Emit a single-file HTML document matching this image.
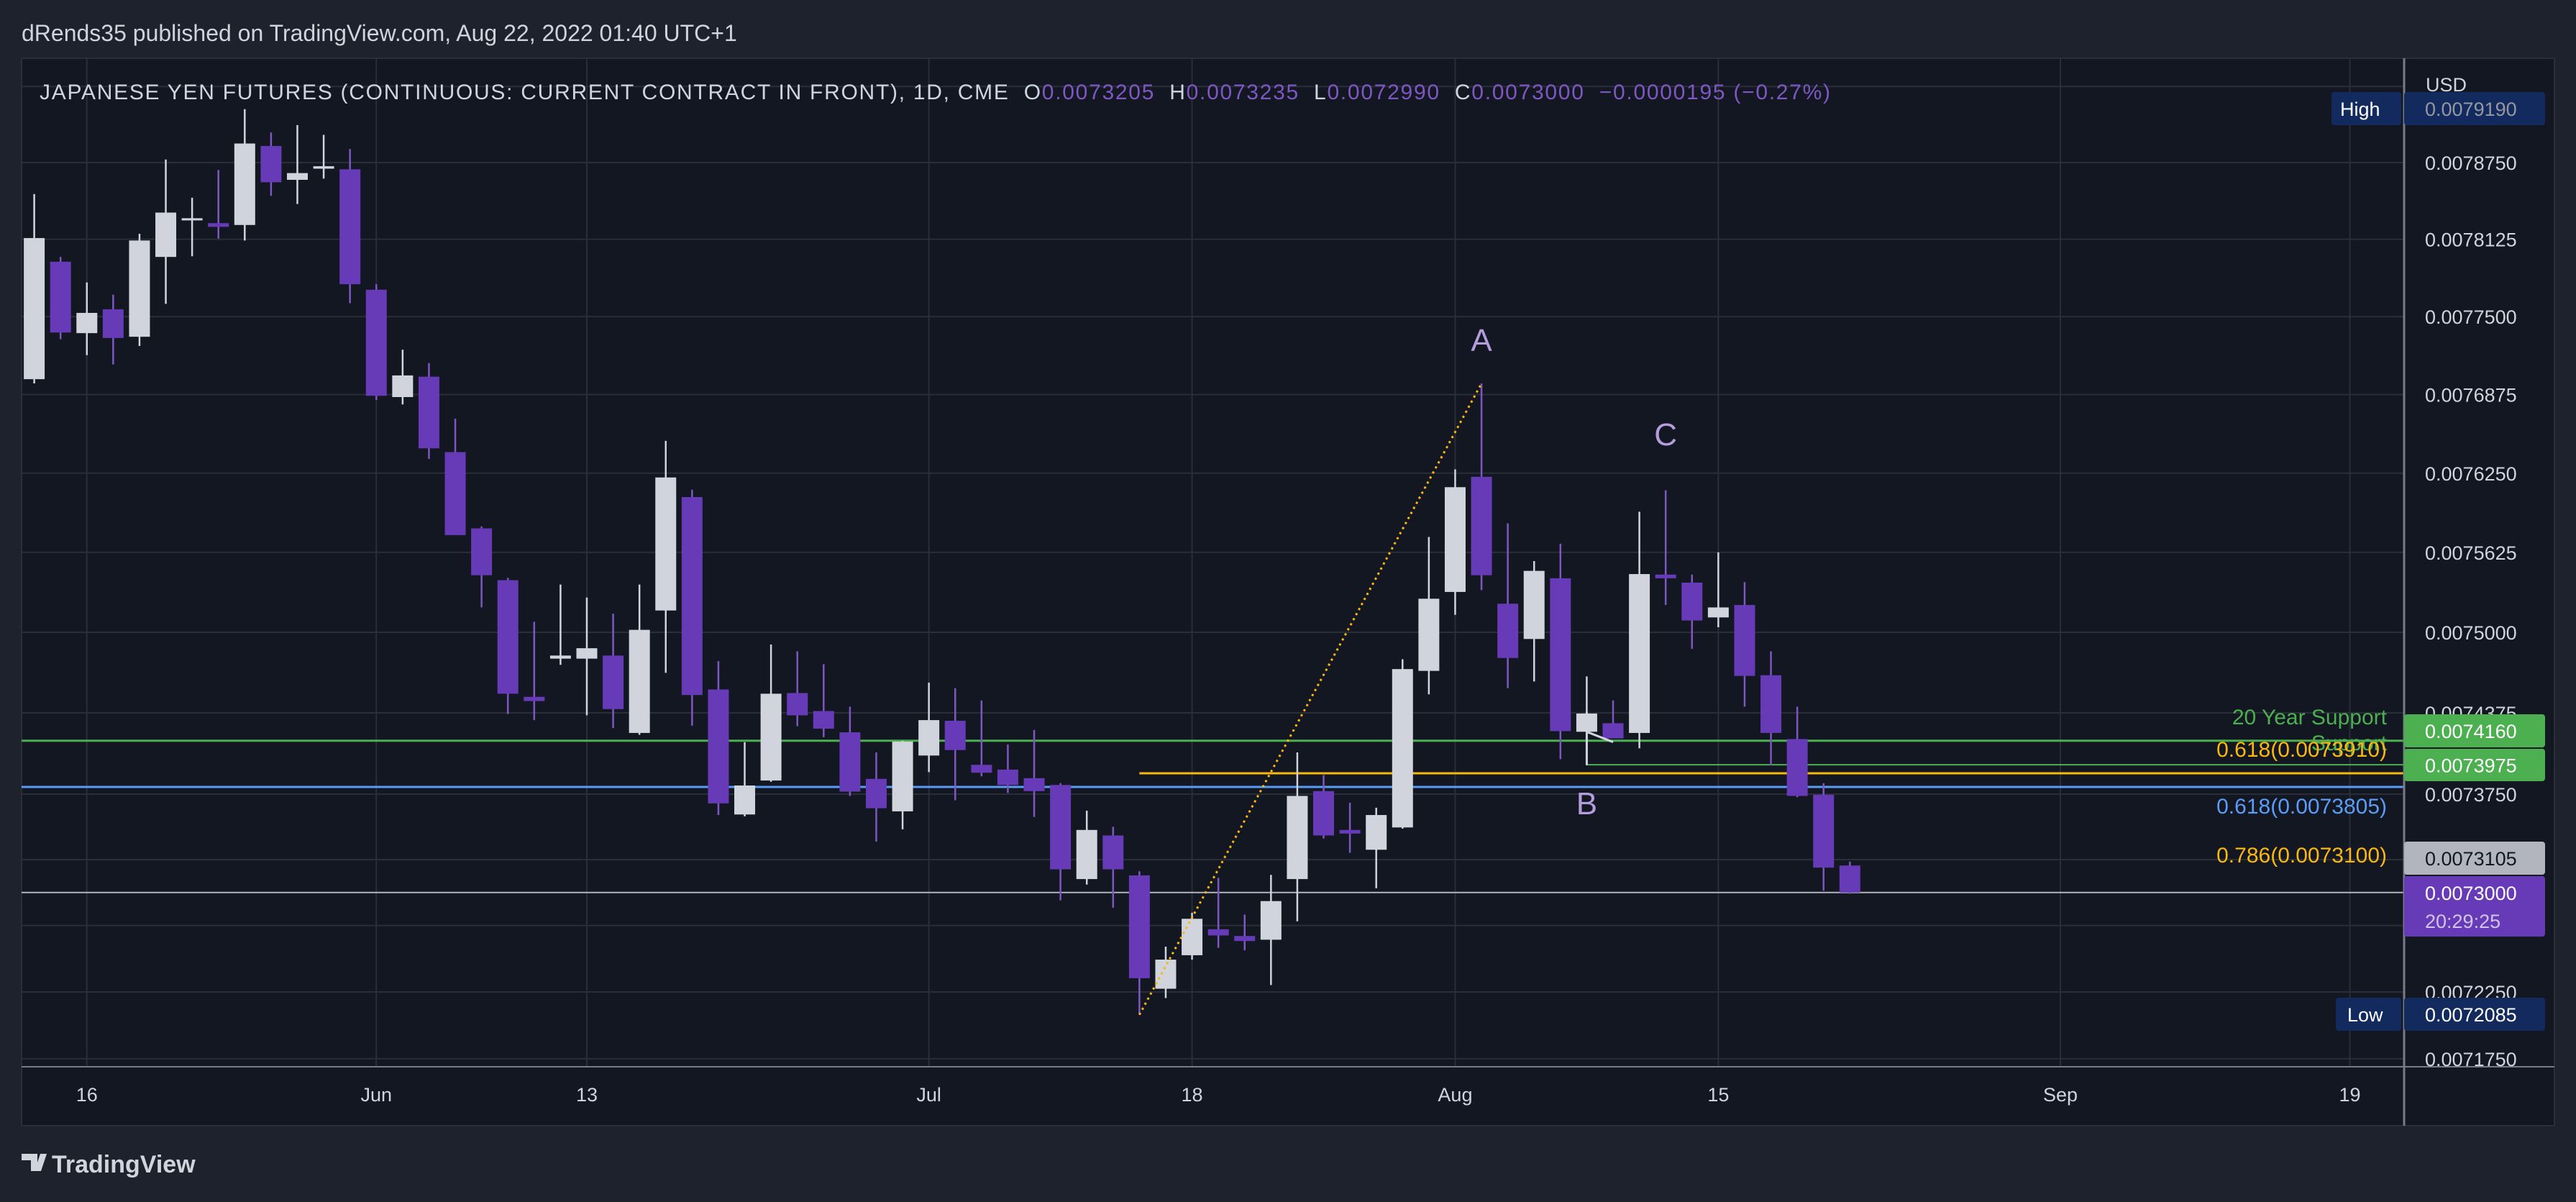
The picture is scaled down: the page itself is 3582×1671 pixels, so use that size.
<!DOCTYPE html>
<html><head><meta charset="utf-8">
<style>
html,body{margin:0;padding:0;background:#1e222d;}
svg{display:block;font-family:"Liberation Sans",sans-serif;}
</style></head>
<body>
<svg id="chart" width="3582" height="1671" viewBox="0 0 3582 1671" xmlns="http://www.w3.org/2000/svg">
<rect x="0" y="0" width="3582" height="1671" fill="#1e222d"/>
<rect x="30" y="81" width="3522" height="1484" fill="#131722" stroke="#2a2e39" stroke-width="2"/>
<text x="30" y="57" font-size="32" fill="#d1d4dc">dRends35 published on TradingView.com, Aug 22, 2022 01:40 UTC+1</text>
<g id="grid"></g>
<g id="levels"></g>
<g id="candles"></g>
<g id="overlay"></g>
<text x="55" y="138" font-size="30" fill="#d1d4dc" textLength="2490" lengthAdjust="spacing" style="white-space:pre" xml:space="preserve">JAPANESE YEN FUTURES (CONTINUOUS: CURRENT CONTRACT IN FRONT), 1D, CME  O<tspan fill="#7e57c2">0.0073205</tspan>  H<tspan fill="#7e57c2">0.0073235</tspan>  L<tspan fill="#7e57c2">0.0072990</tspan>  C<tspan fill="#7e57c2">0.0073000</tspan>  <tspan fill="#7e57c2">−0.0000195 (−0.27%)</tspan></text>
<g id="axis"></g>
<g id="taxis"></g>
<g>
<path d="M30 1604 h22 v24 h-9 v-15 h-13 z M56 1604 h9 l-8 24 h-9 z" fill="#d1d4dc"/>
<text x="72" y="1630" font-size="34" font-weight="bold" fill="#d1d4dc">TradingView</text>
</g>
</svg>
<script>
const opens=[0.0076998,0.0077943,0.0077367,0.0077559,0.0077338,0.0077982,0.0078281,0.0078256,0.0078241,0.0078886,0.0078609,0.0078700,0.0078695,0.0077717,0.0076855,0.0077018,0.0076417,0.0075814,0.0075407,0.0074499,0.0074795,0.0074795,0.0074819,0.0074220,0.0075170,0.0076061,0.0074556,0.0073594,0.0073854,0.0074528,0.0074389,0.0074225,0.0073867,0.0073618,0.0074046,0.0074314,0.0073975,0.0073938,0.0073872,0.0073820,0.0073102,0.0073434,0.0073130,0.0072274,0.0072526,0.0072722,0.0072671,0.0072643,0.0073102,0.0073773,0.0073476,0.0073325,0.0073495,0.0074700,0.0075315,0.0076221,0.0075223,0.0074948,0.0075422,0.0074229,0.0074295,0.0074220,0.0075451,0.0075388,0.0075116,0.0075213,0.0074666,0.0074173,0.0073745,0.0073205];
const highs=[0.0078493,0.0077982,0.0077776,0.0077677,0.0078170,0.0078775,0.0078463,0.0078690,0.0079188,0.0078997,0.0079057,0.0078977,0.0078861,0.0077761,0.0077234,0.0077127,0.0076683,0.0075829,0.0075426,0.0075082,0.0075373,0.0075271,0.0075145,0.0075373,0.0076506,0.0076119,0.0074776,0.0074149,0.0074905,0.0074852,0.0074752,0.0074423,0.0074070,0.0074159,0.0074609,0.0074566,0.0074471,0.0074131,0.0074244,0.0073834,0.0073623,0.0073500,0.0073162,0.0072591,0.0072847,0.0073111,0.0072833,0.0073134,0.0074070,0.0073896,0.0073684,0.0073646,0.0074790,0.0075746,0.0076280,0.0076964,0.0075853,0.0075557,0.0075693,0.0074657,0.0074471,0.0075945,0.0076114,0.0075451,0.0075625,0.0075392,0.0074852,0.0074423,0.0073834,0.0073235];
const lows=[0.0076964,0.0077318,0.0077190,0.0077116,0.0077264,0.0077603,0.0077987,0.0078130,0.0078115,0.0078478,0.0078412,0.0078619,0.0077608,0.0076831,0.0076796,0.0076363,0.0075761,0.0075194,0.0074366,0.0074319,0.0074747,0.0074356,0.0074258,0.0074206,0.0074685,0.0074276,0.0073590,0.0073580,0.0073844,0.0074272,0.0074187,0.0073736,0.0073387,0.0073481,0.0073919,0.0073703,0.0073886,0.0073759,0.0073575,0.0072940,0.0073060,0.0072884,0.0072079,0.0072204,0.0072493,0.0072582,0.0072563,0.0072302,0.0072782,0.0073410,0.0073302,0.0073032,0.0073486,0.0074518,0.0075136,0.0075329,0.0074566,0.0074618,0.0074018,0.0073971,0.0074178,0.0074102,0.0075213,0.0074871,0.0075039,0.0074423,0.0073971,0.0073726,0.0073014,0.0072990];
const closes=[0.0078135,0.0077372,0.0077530,0.0077328,0.0078115,0.0078342,0.0078296,0.0078226,0.0078906,0.0078589,0.0078664,0.0078720,0.0077761,0.0076865,0.0077028,0.0076447,0.0075761,0.0075446,0.0074523,0.0074466,0.0074819,0.0074876,0.0074404,0.0075019,0.0076216,0.0074513,0.0073679,0.0073816,0.0074523,0.0074356,0.0074253,0.0073769,0.0073642,0.0074154,0.0074319,0.0074088,0.0073914,0.0073820,0.0073773,0.0073176,0.0073476,0.0073176,0.0072353,0.0072493,0.0072801,0.0072675,0.0072633,0.0072935,0.0073736,0.0073434,0.0073448,0.0073590,0.0074714,0.0075262,0.0076139,0.0075446,0.0074800,0.0075480,0.0074234,0.0074370,0.0074178,0.0075455,0.0075422,0.0075092,0.0075194,0.0074661,0.0074220,0.0073736,0.0073189,0.0073000];
const priceTicks=[0.0079375,0.0078750,0.0078125,0.0077500,0.0076875,0.0076250,0.0075625,0.0075000,0.0074375,0.0073750,0.0073250,0.0072750,0.0072250,0.0071750];
const tickLabels=["","0.0078750","0.0078125","0.0077500","0.0076875","0.0076250","0.0075625","0.0075000","0.0074375","0.0073750","0.0073250","0.0072750","0.0072250","0.0071750"];
const timeIdx=[2,13,21,34,44,54,64,77,88];
const timeLabels=["16","Jun","13","Jul","18","Aug","15","Sep","19"];
const supportLevel=0.0074160, fibA=0.0073910, fibB=0.0073805, fibC=0.0073100, lastPrice=0.0073000, bLevel=0.0073975;

const NS="http://www.w3.org/2000/svg";
function yP(p){return 226+13384*Math.log(0.007875/p);}
function xI(i){return 47.6+i*36.59;}
function mk(tag,attrs,parent){const e=document.createElementNS(NS,tag);for(const k in attrs)e.setAttribute(k,attrs[k]);parent.appendChild(e);return e;}
const grid=document.getElementById('grid'),levels=document.getElementById('levels'),cg=document.getElementById('candles'),ov=document.getElementById('overlay'),ax=document.getElementById('axis'),tx=document.getElementById('taxis');
const L=30,R=3343,T=81,B=1483;
priceTicks.forEach((p,i)=>{const l=mk('line',{x1:L,x2:R,y1:yP(p),y2:yP(p),stroke:'#2a2e39','stroke-width':2},grid);

});
timeIdx.forEach((t,i)=>{const l=mk('line',{x1:xI(t),x2:xI(t),y1:T,y2:B,stroke:'#2a2e39','stroke-width':2},grid);


const s=mk('text',{x:xI(t),y:1531,'font-size':27,fill:'#d1d4dc','text-anchor':'middle'},tx);s.textContent=timeLabels[i];

});
function hline(p,x1,color,w,name){const l=mk('line',{x1:x1,x2:R,y1:yP(p),y2:yP(p),stroke:color,'stroke-width':w},levels);

}
hline(supportLevel,L,'#4caf50',3,'support-line');
hline(bLevel,xI(59),'#4caf50',2,'b-level-line');
hline(fibA,xI(42),'#f9b70f',3,'fib-0618-orange-line');
hline(fibB,L,'#5b9cf6',3,'fib-0618-blue-line');
hline(lastPrice,L,'#b2b5be',2,'last-price-line');
opens.forEach((o,i)=>{const c=closes[i],up=c>=o,col=up?'#d1d4dc':'#673ab7';const g=mk('g',{},cg);


mk('line',{x1:xI(i),x2:xI(i),y1:yP(highs[i]),y2:yP(lows[i]),stroke:up?'#d1d4dc':'#7e57c2','stroke-width':2.5},g);
const t=Math.min(yP(o),yP(c)),h=Math.max(3,Math.abs(yP(o)-yP(c)));
mk('rect',{x:xI(i)-14.5,y:t,width:29,height:h,fill:col},g);});
const tl=mk('line',{x1:xI(42),y1:yP(lows[42]),x2:xI(55),y2:yP(highs[55]),stroke:'#f9b70f','stroke-width':3,'stroke-dasharray':'3 5'},ov);


const bx=xI(59);
const bb=mk('path',{d:`M${bx} ${yP(0.0074380)} V${yP(bLevel)} M${bx} ${yP(0.0074229)} L${xI(60)} ${yP(0.0074150)}`,stroke:'#d1d4dc','stroke-width':3,fill:'none'},ov);


[['A',xI(55),473],['C',xI(62),604],['B',xI(59),1117]].forEach(a=>{const s=mk('text',{x:a[1],y:a[2]+15,'font-size':44,fill:'#b39ddb','text-anchor':'middle'},ov);s.textContent=a[0];

});
function ltext(t,y,col,name){const s=mk('text',{x:3319,y:y+10,'font-size':30,fill:col,'text-anchor':'end'},ov);s.textContent=t;

}
ltext('Support',1033,'#4caf50','support-label-2');
ltext('20 Year Support',997,'#4caf50','support-label');
ltext('0.618(0.0073910)',1042,'#f9b70f','fib-0618-orange-label');
ltext('0.618(0.0073805)',1121,'#5b9cf6','fib-0618-blue-label');
ltext('0.786(0.0073100)',1189,'#f9b70f','fib-0786-label');
mk('line',{x1:R,x2:R,y1:T,y2:1565,stroke:'#787b86','stroke-width':3},ax);
mk('line',{x1:L,x2:3552,y1:B,y2:B,stroke:'#787b86','stroke-width':2},ax);
const usd=mk('text',{x:3373,y:127,'font-size':27,fill:'#d1d4dc'},ax);usd.textContent='USD';


priceTicks.forEach((p,i)=>{if(!tickLabels[i])return;const s=mk('text',{x:3372,y:yP(p)+10,'font-size':27,fill:'#d1d4dc'},ax);s.textContent=tickLabels[i];

});
function box(x,y,w,h,fill,txt,tcol,name,tx2){const g=mk('g',{},ax);


mk('rect',{x:x,y:y,width:w,height:h,rx:4,fill:fill},g);
const s=mk('text',{x:x+(tx2||29),y:y+h/2+10,'font-size':27,fill:tcol},g);s.textContent=txt;return g;}
box(3242,128,97,46,'#132a5e','High','#ffffff','high-tag',12);
box(3343,128,196,46,'#132a5e','0.0079190','#9598a1','high-price-tag');
box(3343,993,196,46,'#4caf50','0.0074160','#ffffff','support-price-tag');
box(3343,1041,196,45,'#4caf50','0.0073975','#ffffff','b-level-price-tag');
box(3343,1170,196,46,'#b2b5be','0.0073105','#131722','fib-price-tag');
const pg=box(3343,1218,196,84,'#673ab7','0.0073000','#ffffff','last-price-tag');
pg.lastChild.setAttribute('y',1251);
const cd=mk('text',{x:3372,y:1290,'font-size':27,fill:'#d1c4e9'},pg);cd.textContent='20:29:25';
box(3248,1387,91,46,'#132a5e','Low','#ffffff','low-tag',16);
box(3343,1387,196,46,'#132a5e','0.0072085','#ffffff','low-price-tag');
</script>
</body></html>
